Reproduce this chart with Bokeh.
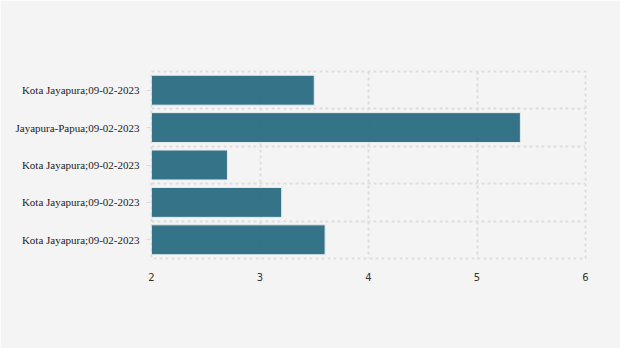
from bokeh.plotting import figure
from bokeh.models import Range1d, FixedTicker
from bokeh.embed import file_html
from bokeh.resources import INLINE

labels = ["Kota Jayapura;09-02-2023", "Jayapura-Papua;09-02-2023", "Kota Jayapura;09-02-2023",
          "Kota Jayapura;09-02-2023", "Kota Jayapura;09-02-2023"]
values = [3.5, 5.4, 2.7, 3.2, 3.6]
x_ticks = [2, 3, 4, 5, 6]

pos = list(range(1, len(labels) + 1))

p = figure(width=620, height=348, output_backend="svg", toolbar_location=None,
           x_range=Range1d(2, 6), y_range=Range1d(len(labels) + 0.5, 0.5),
           min_border_left=151, min_border_right=35, min_border_top=71, min_border_bottom=90,
           background_fill_color="#f4f4f4", border_fill_color="#f4f4f4")
p.outline_line_color = "#dddddd"
p.outline_line_dash = "3 3"
p.outline_line_width = 2

p.hbar(y=pos, left=2, right=values, height=0.8, fill_color="#2a6b82", fill_alpha=0.95,
       line_color="#e6ecee", line_width=1)

p.xaxis.ticker = FixedTicker(ticks=x_ticks)
p.xaxis.axis_line_color = None
p.xaxis.major_tick_line_color = None
p.xaxis.minor_tick_line_color = None
p.xaxis.major_label_standoff = 8
p.xaxis.major_label_text_font = "DejaVu Sans"
p.xaxis.major_label_text_font_size = "10px"
p.xaxis.major_label_text_color = "#333333"

p.yaxis.ticker = FixedTicker(ticks=pos)
p.yaxis.major_label_overrides = {i: l for i, l in zip(pos, labels)}
p.yaxis.axis_line_color = None
p.yaxis.major_tick_line_color = "#dddddd"
p.yaxis.major_tick_out = 5
p.yaxis.major_tick_in = 0
p.yaxis.minor_tick_line_color = None
p.yaxis.major_label_standoff = 7
p.yaxis.major_label_text_font = "Liberation Serif"
p.yaxis.major_label_text_font_size = "11px"
p.yaxis.major_label_text_color = "#222222"

p.xgrid.ticker = FixedTicker(ticks=x_ticks)
p.ygrid.ticker = FixedTicker(ticks=[i + 0.5 for i in range(len(labels) + 1)])
for g in (p.xgrid, p.ygrid):
    g.grid_line_color = "#dddddd"
    g.grid_line_dash = "3 3"
    g.grid_line_width = 2

open("out.html", "w").write(file_html(p, INLINE))
